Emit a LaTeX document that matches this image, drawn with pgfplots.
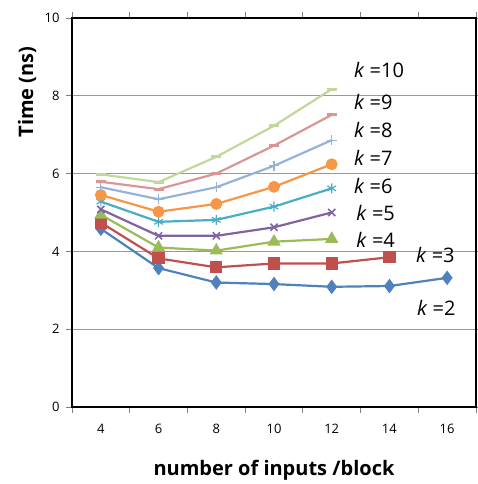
\documentclass[border=0pt]{standalone}
\usepackage{pgfplots}
\pgfplotsset{compat=1.18}
\usepackage{fontspec}
\setmainfont{Open Sans}
\definecolor{c2}{HTML}{4F81BD}
\definecolor{c3}{HTML}{C0504D}
\definecolor{c4}{HTML}{9BBB59}
\definecolor{c5}{HTML}{8064A2}
\definecolor{c6}{HTML}{4BACC6}
\definecolor{c7}{HTML}{F79646}
\definecolor{c8}{HTML}{95B3D7}
\definecolor{c9}{HTML}{D99694}
\definecolor{c10}{HTML}{C3D69B}
\begin{document}
\begin{tikzpicture}
\path[use as bounding box] (-72pt,-77pt) rectangle (406pt,407pt);
\begin{axis}[
  scale only axis, width=404pt, height=389pt,
  xmin=3, xmax=17, ymin=0, ymax=10,
  xtick={4,6,...,16}, minor xtick={3,5,...,17},
  ytick={0,2,...,10},
  major x tick style={draw=none},
  tick align=outside,
  x tick style={gray, line width=0.8pt},
  y tick style={gray, line width=0.8pt},
  major tick length=6pt, minor tick length=6pt,
  ymajorgrids, grid style={gray!80, line width=0.8pt},
  axis line style={black, line width=2.4pt},
  ticklabel style={font=\fontsize{13}{15}\selectfont},
  /pgf/number format/assume math mode=true,
  xticklabel style={yshift=-8pt},
  yticklabel style={xshift=-3pt},
  xlabel={\textbf{number of inputs /block}},
  xlabel style={font=\fontsize{20}{22}\selectfont, at={(axis description cs:0.5,0)}, anchor=center, yshift=-63pt},
  ylabel={\textbf{Time (ns)}},
  ylabel style={font=\fontsize{20}{22}\selectfont, at={(axis description cs:-0.111,0.81)}, anchor=center, rotate=0},
  every axis plot/.append style={line width=2.2pt, mark options={solid}},
  clip=false,
]
\addplot[c2, mark=diamond*, mark size=5.5pt] coordinates {(4,4.58) (6,3.57) (8,3.20) (10,3.16) (12,3.09) (14,3.11) (16,3.32)};
\addplot[c3, mark=square*, mark size=5pt] coordinates {(4,4.74) (6,3.82) (8,3.59) (10,3.69) (12,3.69) (14,3.85)};
\addplot[c4, mark=triangle*, mark size=5.5pt] coordinates {(4,4.94) (6,4.10) (8,4.02) (10,4.25) (12,4.32)};
\addplot[c5, mark=x, mark size=5pt, mark options={line width=1.5pt}] coordinates {(4,5.08) (6,4.40) (8,4.40) (10,4.62) (12,5.00)};
\addplot[c6, mark=asterisk, mark size=5pt, mark options={line width=1.2pt}] coordinates {(4,5.28) (6,4.76) (8,4.81) (10,5.15) (12,5.62)};
\addplot[c7, mark=*, mark size=4.8pt] coordinates {(4,5.45) (6,5.02) (8,5.22) (10,5.66) (12,6.24)};
\addplot[c8, mark=+, mark size=5pt, mark options={line width=1.2pt}] coordinates {(4,5.65) (6,5.34) (8,5.65) (10,6.20) (12,6.86)};
\addplot[c9, mark=-, mark size=5pt, mark options={line width=3pt}] coordinates {(4,5.79) (6,5.60) (8,6.00) (10,6.72) (12,7.51)};
\addplot[c10, mark=-, mark size=5pt, mark options={line width=3pt}] coordinates {(4,5.98) (6,5.78) (8,6.43) (10,7.23) (12,8.17)};
\draw[black, line width=2.4pt] (rel axis cs:0,0) rectangle (rel axis cs:1,1);
\begin{scope}[every node/.style={anchor=west, font=\fontsize{20}{22}\selectfont, inner sep=0pt}]
\node at (axis cs:12.77,8.66) {\textit{k} =10};
\node at (axis cs:12.77,7.84) {\textit{k} =9};
\node at (axis cs:12.77,7.12) {\textit{k} =8};
\node at (axis cs:12.77,6.40) {\textit{k} =7};
\node at (axis cs:12.77,5.68) {\textit{k} =6};
\node at (axis cs:12.85,4.98) {\textit{k} =5};
\node at (axis cs:12.85,4.29) {\textit{k} =4};
\node at (axis cs:14.92,3.90) {\textit{k} =3};
\node at (axis cs:14.95,2.55) {\textit{k} =2};
\end{scope}
\end{axis}
\end{tikzpicture}
\end{document}
